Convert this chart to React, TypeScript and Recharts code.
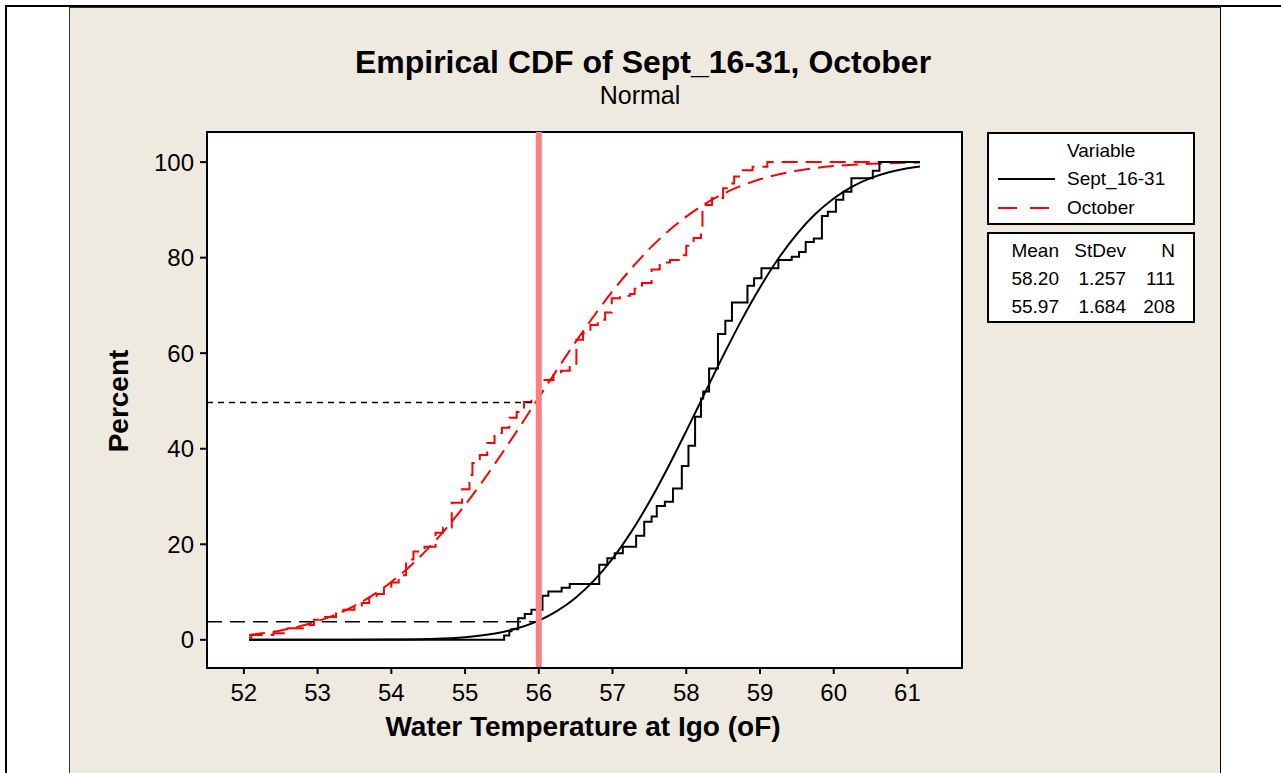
import { LineChart, Line, XAxis, YAxis, ReferenceLine } from 'recharts';

const FONT = '"Liberation Sans", Arial, sans-serif';

const xTicks = [52, 53, 54, 55, 56, 57, 58, 59, 60, 61];
const yTicks = [0, 20, 40, 60, 80, 100];

const septEcdf: [number, number][] = [
  [52.07, 0], [55.53, 0.9], [55.6, 1.8], [55.63, 2.2], [55.72, 4.5], [55.81, 5.4],
  [55.9, 6.3], [56.05, 9.2], [56.13, 10.1], [56.31, 10.9], [56.42, 11.7], [56.82, 15.7],
  [56.93, 17.1], [57.03, 18.1], [57.14, 19.5], [57.32, 21.8], [57.43, 24.7], [57.53, 25.8],
  [57.6, 28.0], [57.71, 28.9], [57.82, 31.7], [57.94, 36.4], [58.03, 40.6], [58.12, 46.7],
  [58.2, 50.5], [58.23, 52.0], [58.31, 56.8], [58.43, 64.0], [58.53, 66.8], [58.62, 70.6],
  [58.83, 74.1], [58.92, 75.7], [59.02, 77.8], [59.25, 79.5], [59.43, 80.2], [59.53, 81.2],
  [59.62, 83.3], [59.73, 84.0], [59.84, 88.7], [59.92, 89.6], [60.03, 92.1], [60.13, 93.8],
  [60.24, 96.6], [60.53, 98.2], [60.62, 100], [61.17, 100],
];

const octEcdf: [number, number][] = [
  [52.07, 0.5], [52.1, 1.0], [52.4, 1.4], [52.6, 2.4], [52.8, 3.1], [52.95, 4.2],
  [53.1, 4.8], [53.25, 5.5], [53.35, 6.3], [53.5, 7.2], [53.6, 7.7], [53.7, 8.8],
  [53.8, 9.6], [53.9, 10.6], [54.0, 12.0], [54.1, 13.5], [54.2, 16.8], [54.3, 18.5],
  [54.45, 19.5], [54.6, 22.4], [54.7, 23.5], [54.82, 28.7], [54.96, 31.5], [55.06, 34.5],
  [55.1, 37.0], [55.2, 38.7], [55.3, 41.2], [55.4, 43.3], [55.5, 44.4], [55.6, 46.5],
  [55.7, 47.7], [55.8, 49.8], [55.9, 50.8], [56.0, 53.5], [56.06, 54.4], [56.2, 55.5],
  [56.3, 56.3], [56.42, 57.1], [56.51, 62.8], [56.6, 64.2], [56.7, 65.9], [56.8, 67.0],
  [56.9, 68.5], [56.99, 71.5], [57.1, 72.0], [57.24, 72.4], [57.3, 73.5], [57.4, 74.7],
  [57.53, 77.5], [57.64, 79.0], [57.78, 79.5], [57.9, 80.5], [58.0, 82.5], [58.1, 84.1],
  [58.2, 86.0], [58.22, 91.0], [58.35, 92.5], [58.5, 94.5], [58.55, 95.5], [58.65, 97.0],
  [58.75, 98.3], [58.9, 99.0], [59.1, 100], [61.17, 100],
];

// fitted normal curves
const septFit: [number, number][] = [
  [52.07, 0], [53, 0], [54, 0.04], [54.5, 0.16], [55, 0.54], [55.5, 1.59], [56, 4.0],
  [56.25, 6.04], [56.5, 8.82], [56.75, 12.43], [57, 16.99], [57.25, 22.49], [57.5, 28.88],
  [57.75, 36.02], [58, 43.68], [58.25, 51.59], [58.5, 59.43], [58.75, 66.92], [59, 73.76],
  [59.25, 79.82], [59.5, 84.94], [59.75, 89.12], [60, 92.39], [60.25, 94.86], [60.5, 96.64],
  [60.75, 97.88], [61, 98.71], [61.17, 99.09],
];

const octFit: [number, number][] = [
  [52.07, 1.03], [52.5, 1.97], [53, 3.89], [53.5, 7.12], [54, 12.1], [54.25, 15.36],
  [54.5, 19.13], [54.75, 23.44], [55, 28.23], [55.25, 33.44], [55.5, 39.01], [55.75, 44.79],
  [56, 50.72], [56.25, 56.59], [56.5, 62.36], [56.75, 67.83], [57, 72.97], [57.25, 77.64],
  [57.5, 81.83], [57.75, 85.47], [58, 88.59], [58.25, 91.21], [58.5, 93.35], [58.75, 95.06],
  [59, 96.4], [59.5, 98.2], [60, 99.16], [60.5, 99.64], [61, 99.86], [61.17, 99.9],
];

const statHeaders = ['Mean', 'StDev', 'N'];
const statRows = [
  ['58.20', '1.257', '111'],
  ['55.97', '1.684', '208'],
];

const toPoints = (pairs: [number, number][]) => pairs.map(([x, y]) => ({ x, y }));

const abs = (left: number, top: number, extra: any = {}) => ({
  position: 'absolute' as const,
  left,
  top,
  ...extra,
});

export default function App() {
  const statCols = [1059, 1126, 1175];
  return (
    <div style={{ position: 'absolute', left: 0, top: 0, width: 1281, height: 773, overflow: 'hidden', background: '#fff', fontFamily: FONT, color: '#000' }}>
      {/* page frame */}
      <div style={abs(5, 5, { width: 1276, height: 2, background: '#000' })} />
      <div style={abs(5, 5, { width: 2, height: 768, background: '#000' })} />
      <div style={abs(1219, 5, { width: 2, height: 768, background: '#000' })} />
      <div style={abs(69, 7, { width: 1150, height: 770, background: '#EEEAE0', borderLeft: '1px solid #333', borderTop: '1px solid #333' })} />

      {/* plot area */}
      <div style={abs(206, 131, { width: 757, height: 538, background: '#fff', border: '2px solid #000', boxSizing: 'border-box' })} />

      <div style={abs(0, 46, { width: 1286, textAlign: 'center', fontSize: 32, fontWeight: 'bold', lineHeight: '32px', whiteSpace: 'nowrap' })}>
        Empirical CDF of Sept_16-31, October
      </div>
      <div style={abs(0, 83, { width: 1280, textAlign: 'center', fontSize: 25, lineHeight: '25px' })}>Normal</div>
      <div style={abs(0, 713, { width: 1166, textAlign: 'center', fontSize: 28, fontWeight: 'bold', lineHeight: '28px', whiteSpace: 'nowrap' })}>
        Water Temperature at Igo (oF)
      </div>
      <div style={abs(119, 401, { fontSize: 28, fontWeight: 'bold', lineHeight: '28px', whiteSpace: 'nowrap', transform: 'translate(-50%, -50%) rotate(-90deg)' })}>
        Percent
      </div>

      <div style={abs(0, 0)}>
        <LineChart width={1281} height={773} margin={{ top: 132, right: 319, bottom: 65, left: 147 }}>
          <XAxis
            type="number"
            dataKey="x"
            domain={[51.5, 61.74]}
            ticks={xTicks}
            allowDataOverflow
            height={40}
            tickSize={6}
            tickMargin={10}
            axisLine={{ stroke: '#000', strokeWidth: 2 }}
            tickLine={{ stroke: '#000', strokeWidth: 2 }}
            tick={{ fill: '#000', fontSize: 24, fontFamily: FONT }}
          />
          <YAxis
            type="number"
            dataKey="y"
            domain={[-5.9, 106.3]}
            ticks={yTicks}
            allowDataOverflow
            width={60}
            tickSize={7}
            tickMargin={6}
            axisLine={{ stroke: '#000', strokeWidth: 2 }}
            tickLine={{ stroke: '#000', strokeWidth: 2 }}
            tick={{ fill: '#000', fontSize: 24, fontFamily: FONT }}
          />
          <Line data={toPoints(octFit)} dataKey="y" type="monotone" stroke="#FF0000" strokeWidth={2} strokeDasharray="16 8" dot={false} isAnimationActive={false} />
          <Line data={toPoints(octEcdf)} dataKey="y" type="stepAfter" stroke="#FF0000" strokeWidth={2} strokeDasharray="16 8" dot={false} isAnimationActive={false} />
          <Line data={toPoints(septFit)} dataKey="y" type="monotone" stroke="#000" strokeWidth={2} dot={false} isAnimationActive={false} />
          <Line data={toPoints(septEcdf)} dataKey="y" type="stepAfter" stroke="#000" strokeWidth={2} dot={false} isAnimationActive={false} />
          <ReferenceLine segment={[{ x: 51.5, y: 49.7 }, { x: 56, y: 49.7 }]} stroke="#000" strokeWidth={1.5} strokeDasharray="6 5" />
          <ReferenceLine segment={[{ x: 51.5, y: 3.8 }, { x: 56, y: 3.8 }]} stroke="#000" strokeWidth={1.5} strokeDasharray="15 8" />
          <ReferenceLine x={56} stroke="#FF8080" strokeWidth={6} />
        </LineChart>
      </div>

      {/* legend */}
      <div style={abs(987, 132, { width: 208, height: 93, border: '2px solid #000', boxSizing: 'border-box', background: '#fff' })} />
      <div style={abs(1067, 141, { fontSize: 19, lineHeight: '19px' })}>Variable</div>
      <svg style={abs(990, 170)} width={70} height={50}>
        <line x1={8} y1={9} x2={65} y2={9} stroke="#000" strokeWidth={2} />
        <line x1={8} y1={38} x2={60} y2={38} stroke="#FF0000" strokeWidth={2} strokeDasharray="19 13" />
      </svg>
      <div style={abs(1067, 169, { fontSize: 19, lineHeight: '19px' })}>Sept_16-31</div>
      <div style={abs(1067, 198, { fontSize: 19, lineHeight: '19px' })}>October</div>

      <div style={abs(987, 232, { width: 208, height: 91, border: '2px solid #000', boxSizing: 'border-box', background: '#fff' })} />
      {statHeaders.map((h, i) => (
        <div key={h} style={abs(statCols[i] - 100, 241, { width: 100, textAlign: 'right', fontSize: 19, lineHeight: '19px' })}>{h}</div>
      ))}
      {statRows.map((row, r) =>
        row.map((v, i) => (
          <div key={`${r}-${i}`} style={abs(statCols[i] - 100, 269 + r * 28, { width: 100, textAlign: 'right', fontSize: 19, lineHeight: '19px' })}>{v}</div>
        ))
      )}
    </div>
  );
}
